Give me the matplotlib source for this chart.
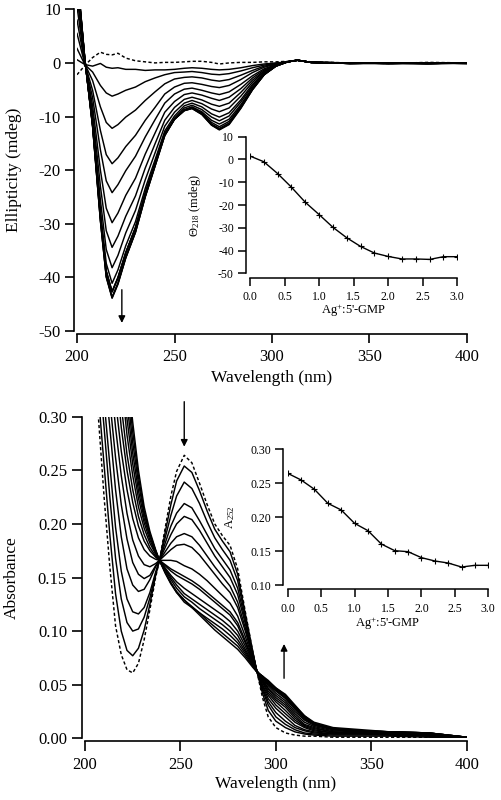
import matplotlib
matplotlib.use('Agg')
import matplotlib.pyplot as plt

plt.rcParams['font.family'] = ['Liberation Serif', 'DejaVu Serif']
plt.rcParams['mathtext.fontset'] = 'custom'
plt.rcParams['mathtext.rm'] = 'Liberation Serif'
plt.rcParams['mathtext.it'] = 'Liberation Serif:italic'
plt.rcParams['mathtext.bf'] = 'Liberation Serif:bold'
plt.rcParams['mathtext.default'] = 'regular'
plt.rcParams['axes.unicode_minus'] = False

# ---------------- CD spectra (top) ----------------
wl_cd = [200, 204, 208, 212, 215, 218, 221, 225, 230, 235, 240, 245, 250, 255, 259,
         264, 269, 273, 278, 284, 290, 296, 302, 308, 313, 320, 340, 360, 380, 400]
cd_r00 = [-2.2, -0.5, 1.0, 2.0, 1.6, 1.5, 1.8, 0.9, 0.4, 0.2, 0.0, 0.1, 0.1, 0.2, 0.3, 0.3, 0.1, -0.2, 0.0, 0.1, 0.1, 0.2, 0.2, 0.3, 0.5, 0.2, 0.0, -0.1, 0.1, 0.0]
cd_r02 = [0.6, -0.3, -0.6, -0.1, -0.8, -1.0, -0.9, -1.2, -1.2, -1.4, -1.3, -1.3, -1.2, -1.0, -0.9, -1.0, -1.2, -1.3, -1.2, -0.9, -0.5, -0.2, 0.0, 0.2, 0.5, 0.1, -0.1, 0.0, -0.2, 0.0]
cd_r04 = [2.7, -0.3, -1.7, -4.2, -5.6, -6.2, -5.8, -5.1, -4.5, -3.5, -2.8, -2.2, -1.8, -1.7, -1.6, -1.8, -2.1, -2.2, -2.0, -1.5, -0.9, -0.4, -0.1, 0.2, 0.5, 0.1, 0.0, -0.1, 0.0, -0.1]
cd_r06 = [5.5, -0.2, -3.3, -8.2, -11.1, -12.2, -11.5, -10.1, -8.8, -7.0, -5.4, -3.9, -3.0, -2.7, -2.6, -2.8, -3.2, -3.4, -3.1, -2.3, -1.4, -0.6, -0.2, 0.2, 0.5, 0.1, -0.1, 0.0, -0.1, 0.0]
cd_r08 = [8.0, -0.1, -5.1, -12.6, -17.1, -18.8, -17.7, -15.6, -13.5, -10.7, -8.3, -5.8, -4.5, -3.8, -3.7, -4.0, -4.4, -4.6, -4.2, -3.1, -1.8, -0.8, -0.2, 0.2, 0.5, 0.1, 0.0, -0.1, -0.1, 0.0]
cd_r10 = [10.5, 0.0, -6.5, -16.2, -22.0, -24.2, -22.7, -20.1, -17.4, -13.8, -10.6, -7.5, -5.8, -4.9, -4.7, -5.1, -5.6, -5.9, -5.4, -4.0, -2.4, -1.1, -0.3, 0.2, 0.5, 0.1, -0.1, 0.0, -0.1, -0.1]
cd_r12 = [12.5, 0.2, -8.0, -20.0, -27.1, -29.8, -28.0, -24.7, -21.5, -17.0, -13.1, -9.2, -7.2, -5.9, -5.6, -6.0, -6.6, -7.0, -6.4, -4.8, -2.8, -1.3, -0.4, 0.2, 0.5, 0.1, 0.0, -0.1, 0.0, -0.1]
cd_r14 = [14.0, 0.4, -9.3, -23.0, -31.3, -34.4, -32.3, -28.6, -24.8, -19.6, -15.1, -10.7, -8.3, -6.8, -6.4, -6.9, -7.7, -8.1, -7.5, -5.5, -3.2, -1.5, -0.4, 0.2, 0.5, 0.1, -0.1, -0.1, 0.0, 0.0]
cd_r16 = [15.0, 0.5, -10.3, -25.6, -34.8, -38.2, -35.9, -31.7, -27.5, -21.8, -16.8, -11.8, -9.2, -7.5, -7.0, -7.6, -8.6, -9.1, -8.4, -6.2, -3.6, -1.6, -0.5, 0.2, 0.5, 0.1, 0.0, -0.1, -0.1, 0.0]
cd_r18 = [16.0, 0.6, -11.1, -27.5, -37.4, -41.1, -38.6, -34.1, -29.6, -23.4, -18.1, -12.7, -9.9, -8.0, -7.5, -8.2, -9.5, -10.1, -9.3, -6.9, -4.0, -1.8, -0.5, 0.2, 0.5, 0.1, -0.1, 0.0, -0.1, 0.0]
cd_r20 = [16.5, 0.7, -11.5, -28.5, -38.8, -42.6, -40.0, -35.4, -30.7, -24.3, -18.7, -13.2, -10.3, -8.4, -7.9, -8.7, -10.1, -10.8, -9.9, -7.3, -4.3, -1.9, -0.5, 0.2, 0.5, 0.1, 0.0, -0.1, 0.0, -0.1]
cd_r22 = [17.0, 0.8, -11.8, -29.3, -39.8, -43.7, -41.1, -36.3, -31.5, -24.9, -19.2, -13.5, -10.5, -8.7, -8.2, -9.1, -10.7, -11.4, -10.5, -7.8, -4.6, -2.1, -0.6, 0.2, 0.5, 0.1, -0.1, -0.1, 0.0, 0.0]
cd_r24 = [17.0, 0.8, -11.8, -29.3, -39.8, -43.7, -41.1, -36.3, -31.5, -24.9, -19.2, -13.5, -10.5, -8.8, -8.3, -9.3, -11.1, -11.9, -10.9, -8.1, -4.8, -2.1, -0.6, 0.2, 0.5, 0.1, 0.0, -0.1, -0.1, 0.0]
cd_r26 = [17.2, 0.8, -11.9, -29.5, -40.0, -43.9, -41.3, -36.4, -31.6, -25.0, -19.3, -13.6, -10.5, -8.9, -8.4, -9.4, -11.4, -12.2, -11.2, -8.3, -4.9, -2.2, -0.6, 0.2, 0.5, 0.1, -0.1, 0.0, -0.1, 0.0]
cd_r28 = [16.6, 0.7, -11.5, -28.6, -38.9, -42.7, -40.1, -35.4, -30.7, -24.3, -18.8, -13.2, -10.5, -8.9, -8.5, -9.6, -11.6, -12.4, -11.4, -8.4, -5.0, -2.2, -0.6, 0.2, 0.5, 0.1, 0.0, -0.1, 0.0, -0.1]
cd_r30 = [16.6, 0.7, -11.5, -28.6, -38.9, -42.7, -40.1, -35.4, -30.7, -24.3, -18.8, -13.2, -10.5, -8.9, -8.5, -9.6, -11.6, -12.5, -11.5, -8.5, -5.0, -2.2, -0.6, 0.2, 0.5, 0.1, -0.1, 0.0, -0.1, 0.0]

# CD inset: ellipticity at 218 nm vs ratio
ratio = [0.0, 0.2, 0.4, 0.6, 0.8, 1.0, 1.2, 1.4, 1.6, 1.8, 2.0, 2.2, 2.4, 2.6, 2.8, 3.0]
theta218 = [1.5, -1.0, -6.2, -12.2, -18.8, -24.2, -29.8, -34.4, -38.2, -41.1, -42.6, -43.7, -43.7, -43.9, -42.7, -42.7]

# ---------------- Absorbance spectra (bottom) ----------------
wl_abs = [204, 207, 210, 213, 216, 219, 222, 225, 228, 231, 234, 237, 239, 242, 245, 248, 252, 256, 260, 264,
          268, 272, 276, 280, 284, 288, 290, 293, 296, 300, 305, 310, 315, 320, 330, 345, 360, 380, 400]
ab_r00 = [0.38, 0.30, 0.225, 0.16, 0.105, 0.078, 0.064, 0.061, 0.070, 0.092, 0.120, 0.150, 0.166, 0.196, 0.226, 0.249, 0.264, 0.257, 0.238, 0.218, 0.200, 0.189, 0.180, 0.158, 0.118, 0.080, 0.063, 0.038, 0.020, 0.010, 0.005, 0.003, 0.002, 0.002, 0.001, 0.001, 0.001, 0.001, 0.000]
ab_r02 = [0.40, 0.32, 0.255, 0.19, 0.135, 0.100, 0.082, 0.077, 0.084, 0.101, 0.125, 0.152, 0.166, 0.192, 0.218, 0.240, 0.254, 0.248, 0.231, 0.212, 0.195, 0.184, 0.174, 0.153, 0.116, 0.080, 0.063, 0.042, 0.026, 0.016, 0.010, 0.006, 0.004, 0.003, 0.002, 0.002, 0.002, 0.001, 0.000]
ab_r04 = [0.43, 0.35, 0.29, 0.225, 0.168, 0.130, 0.108, 0.100, 0.102, 0.113, 0.131, 0.153, 0.166, 0.187, 0.208, 0.226, 0.239, 0.233, 0.219, 0.202, 0.187, 0.176, 0.166, 0.147, 0.113, 0.079, 0.063, 0.045, 0.031, 0.020, 0.013, 0.008, 0.005, 0.004, 0.003, 0.003, 0.003, 0.002, 0.000]
ab_r06 = [0.46, 0.38, 0.315, 0.255, 0.197, 0.156, 0.130, 0.118, 0.116, 0.122, 0.136, 0.155, 0.166, 0.182, 0.198, 0.210, 0.219, 0.215, 0.203, 0.190, 0.177, 0.167, 0.157, 0.140, 0.110, 0.078, 0.063, 0.047, 0.034, 0.024, 0.016, 0.010, 0.007, 0.005, 0.004, 0.004, 0.003, 0.002, 0.000]
ab_r08 = [0.49, 0.41, 0.345, 0.29, 0.232, 0.188, 0.158, 0.143, 0.137, 0.139, 0.148, 0.160, 0.166, 0.178, 0.190, 0.200, 0.207, 0.204, 0.194, 0.182, 0.170, 0.160, 0.150, 0.134, 0.107, 0.077, 0.063, 0.049, 0.037, 0.028, 0.020, 0.012, 0.008, 0.006, 0.004, 0.004, 0.004, 0.003, 0.000]
ab_r10 = [0.52, 0.44, 0.375, 0.315, 0.262, 0.218, 0.186, 0.164, 0.153, 0.149, 0.152, 0.161, 0.166, 0.174, 0.182, 0.188, 0.191, 0.188, 0.180, 0.170, 0.160, 0.151, 0.142, 0.127, 0.103, 0.076, 0.063, 0.050, 0.040, 0.031, 0.023, 0.015, 0.010, 0.007, 0.005, 0.005, 0.004, 0.003, 0.001]
ab_r12 = [0.55, 0.47, 0.405, 0.345, 0.29, 0.245, 0.210, 0.185, 0.170, 0.162, 0.160, 0.163, 0.166, 0.171, 0.176, 0.180, 0.181, 0.178, 0.171, 0.162, 0.153, 0.144, 0.136, 0.122, 0.100, 0.075, 0.063, 0.052, 0.042, 0.034, 0.026, 0.017, 0.011, 0.008, 0.005, 0.005, 0.005, 0.004, 0.001]
ab_r14 = [0.58, 0.50, 0.435, 0.375, 0.315, 0.268, 0.232, 0.205, 0.187, 0.176, 0.170, 0.167, 0.166, 0.166, 0.166, 0.165, 0.161, 0.158, 0.153, 0.147, 0.140, 0.133, 0.126, 0.114, 0.095, 0.074, 0.063, 0.053, 0.044, 0.036, 0.029, 0.019, 0.012, 0.009, 0.006, 0.005, 0.005, 0.004, 0.001]
ab_r16 = [0.61, 0.53, 0.465, 0.405, 0.345, 0.290, 0.250, 0.220, 0.198, 0.184, 0.175, 0.169, 0.166, 0.162, 0.158, 0.155, 0.151, 0.147, 0.142, 0.136, 0.130, 0.124, 0.118, 0.108, 0.091, 0.073, 0.063, 0.054, 0.046, 0.038, 0.031, 0.021, 0.013, 0.010, 0.006, 0.005, 0.006, 0.004, 0.001]
ab_r18 = [0.64, 0.56, 0.495, 0.43, 0.37, 0.31, 0.265, 0.232, 0.207, 0.190, 0.178, 0.170, 0.166, 0.161, 0.156, 0.152, 0.148, 0.144, 0.139, 0.133, 0.127, 0.121, 0.115, 0.105, 0.089, 0.072, 0.063, 0.055, 0.047, 0.040, 0.033, 0.023, 0.015, 0.011, 0.007, 0.006, 0.006, 0.005, 0.001]
ab_r20 = [0.67, 0.59, 0.52, 0.46, 0.395, 0.335, 0.283, 0.245, 0.216, 0.196, 0.182, 0.172, 0.166, 0.159, 0.152, 0.146, 0.140, 0.135, 0.130, 0.125, 0.120, 0.115, 0.109, 0.100, 0.086, 0.071, 0.063, 0.056, 0.049, 0.042, 0.035, 0.025, 0.017, 0.012, 0.008, 0.006, 0.006, 0.005, 0.001]
ab_r22 = [0.70, 0.62, 0.545, 0.48, 0.415, 0.355, 0.298, 0.256, 0.224, 0.201, 0.185, 0.173, 0.166, 0.158, 0.150, 0.143, 0.135, 0.130, 0.125, 0.120, 0.115, 0.110, 0.104, 0.096, 0.083, 0.070, 0.063, 0.057, 0.050, 0.044, 0.037, 0.027, 0.018, 0.013, 0.008, 0.006, 0.006, 0.005, 0.001]
ab_r24 = [0.72, 0.64, 0.565, 0.50, 0.435, 0.37, 0.312, 0.266, 0.231, 0.205, 0.188, 0.174, 0.166, 0.157, 0.148, 0.140, 0.132, 0.127, 0.121, 0.116, 0.111, 0.106, 0.100, 0.092, 0.081, 0.069, 0.062, 0.057, 0.051, 0.045, 0.038, 0.028, 0.019, 0.013, 0.009, 0.007, 0.006, 0.005, 0.001]
ab_r26 = [0.74, 0.66, 0.585, 0.52, 0.455, 0.385, 0.325, 0.276, 0.238, 0.209, 0.190, 0.175, 0.166, 0.155, 0.145, 0.136, 0.127, 0.122, 0.117, 0.112, 0.107, 0.102, 0.096, 0.089, 0.079, 0.068, 0.062, 0.058, 0.052, 0.046, 0.039, 0.029, 0.020, 0.014, 0.009, 0.007, 0.006, 0.005, 0.001]
ab_r28 = [0.76, 0.68, 0.605, 0.54, 0.47, 0.40, 0.337, 0.286, 0.244, 0.212, 0.191, 0.175, 0.166, 0.155, 0.145, 0.137, 0.129, 0.123, 0.117, 0.110, 0.104, 0.098, 0.092, 0.086, 0.077, 0.067, 0.062, 0.058, 0.053, 0.047, 0.040, 0.030, 0.021, 0.014, 0.009, 0.007, 0.006, 0.004, 0.001]
ab_r30 = [0.78, 0.70, 0.62, 0.555, 0.485, 0.41, 0.345, 0.295, 0.250, 0.216, 0.193, 0.176, 0.166, 0.154, 0.144, 0.136, 0.129, 0.122, 0.115, 0.108, 0.101, 0.095, 0.089, 0.083, 0.075, 0.066, 0.062, 0.058, 0.054, 0.047, 0.041, 0.031, 0.021, 0.015, 0.010, 0.008, 0.006, 0.004, 0.001]

# Absorbance inset: A252 vs ratio
a252 = [0.2646, 0.2548, 0.2410, 0.2204, 0.2106, 0.1909, 0.1801, 0.1604, 0.1506, 0.1491,
        0.1403, 0.1354, 0.1324, 0.1265, 0.1290, 0.1290]

cd_curves = [cd_r00, cd_r02, cd_r04, cd_r06, cd_r08, cd_r10, cd_r12, cd_r14,
             cd_r16, cd_r18, cd_r20, cd_r22, cd_r24, cd_r26, cd_r28, cd_r30]
ab_curves = [ab_r00, ab_r02, ab_r04, ab_r06, ab_r08, ab_r10, ab_r12, ab_r14,
             ab_r16, ab_r18, ab_r20, ab_r22, ab_r24, ab_r26, ab_r28, ab_r30]

W, H = 502.0, 800.0
fig = plt.figure(figsize=(W / 100, H / 100), dpi=100)


def box(x0, x1, ytop, ybot):
    return [x0 / W, 1 - ybot / H, (x1 - x0) / W, (ybot - ytop) / H]


def style(ax, loff, boff, fs, tlen, padx, pady, lw=1.2):
    ax.spines['top'].set_visible(False)
    ax.spines['right'].set_visible(False)
    ax.spines['left'].set_position(('outward', loff))
    ax.spines['bottom'].set_position(('outward', boff))
    ax.spines['left'].set_linewidth(lw)
    ax.spines['bottom'].set_linewidth(lw)
    ax.tick_params(direction='out', length=tlen, width=lw, labelsize=fs, colors='k')
    ax.tick_params(axis='x', pad=padx)
    ax.tick_params(axis='y', pad=pady)
    ax.patch.set_visible(False)


dash = (0, (2.2, 1.6))

# ---- top main ----
ax1 = fig.add_axes(box(77, 467, 9.3, 331))
for i, c in enumerate(cd_curves):
    ax1.plot(wl_cd, c, color='k', lw=1.05, ls=dash if i == 0 else '-')
ax1.set_xlim(200, 400)
ax1.set_ylim(-50, 10)
ax1.set_xticks([200, 250, 300, 350, 400])
ax1.set_yticks([10, 0, -10, -20, -30, -40, -50])
style(ax1, 2.2, 2.2, 12, 6.5, 4.5, 3.0)
ax1.set_xlabel('Wavelength (nm)', fontsize=12.5)
ax1.set_ylabel('Ellipticity (mdeg)', fontsize=12.5)
ax1.xaxis.set_label_coords(0.5, -0.122)
ax1.yaxis.set_label_coords(-0.142, 0.5)
ax1.annotate('', xy=(223, -48.5), xytext=(223, -42.3),
             arrowprops=dict(arrowstyle='-|>', color='k', lw=1.0, mutation_scale=10,
                             shrinkA=0, shrinkB=0), annotation_clip=False)

# ---- top inset ----
ax2 = fig.add_axes(box(250, 457.3, 136.7, 273.3))
ax2.plot(ratio, theta218, color='k', lw=1.0, marker='+', ms=5, mew=0.8)
ax2.set_xlim(0, 3)
ax2.set_ylim(-50, 10)
ax2.set_xticks([0.0, 0.5, 1.0, 1.5, 2.0, 2.5, 3.0])
ax2.set_xticklabels(['0.0', '0.5', '1.0', '1.5', '2.0', '2.5', '3.0'])
ax2.set_yticks([10, 0, -10, -20, -30, -40, -50])
style(ax2, 3.1, 3.4, 8.5, 6.0, 3.5, 2.5, lw=1.1)
ax2.set_xlabel("Ag$^{+}$:5'-GMP", fontsize=9)
ax2.set_ylabel('Θ$_{218}$ (mdeg)', fontsize=9)
ax2.xaxis.set_label_coords(0.5, -0.215)
ax2.yaxis.set_label_coords(-0.225, 0.5)

# ---- bottom main ----
ax3 = fig.add_axes(box(85, 466.7, 416.7, 738.3))
for i, c in enumerate(ab_curves):
    ax3.plot(wl_abs, c, color='k', lw=1.05, ls=dash if i == 0 else '-')
ax3.set_xlim(200, 400)
ax3.set_ylim(0, 0.30)
ax3.set_xticks([200, 250, 300, 350, 400])
ax3.set_yticks([0.00, 0.05, 0.10, 0.15, 0.20, 0.25, 0.30])
ax3.set_yticklabels(['0.00', '0.05', '0.10', '0.15', '0.20', '0.25', '0.30'])
style(ax3, 2.4, 1.8, 12, 7.0, 4.5, 3.5)
ax3.set_xlabel('Wavelength (nm)', fontsize=12.5)
ax3.set_ylabel('Absorbance', fontsize=12.5)
ax3.xaxis.set_label_coords(0.5, -0.118)
ax3.yaxis.set_label_coords(-0.172, 0.5)
ax3.annotate('', xy=(252, 0.272), xytext=(252, 0.314),
             arrowprops=dict(arrowstyle='-|>', color='k', lw=1.0, mutation_scale=10,
                             shrinkA=0, shrinkB=0), annotation_clip=False)
ax3.annotate('', xy=(304.3, 0.088), xytext=(304.3, 0.056),
             arrowprops=dict(arrowstyle='-|>', color='k', lw=1.0, mutation_scale=10,
                             shrinkA=0, shrinkB=0), annotation_clip=False)

# ---- bottom inset ----
ax4 = fig.add_axes(box(287.7, 488.3, 449.3, 585))
ax4.plot(ratio, a252, color='k', lw=1.0, marker='+', ms=5, mew=0.8)
ax4.set_xlim(0, 3)
ax4.set_ylim(0.10, 0.30)
ax4.set_xticks([0.0, 0.5, 1.0, 1.5, 2.0, 2.5, 3.0])
ax4.set_xticklabels(['0.0', '0.5', '1.0', '1.5', '2.0', '2.5', '3.0'])
ax4.set_yticks([0.10, 0.15, 0.20, 0.25, 0.30])
ax4.set_yticklabels(['0.10', '0.15', '0.20', '0.25', '0.30'])
style(ax4, 3.2, 3.1, 8.5, 6.0, 3.5, 3.0, lw=1.1)
ax4.set_xlabel("Ag$^{+}$:5'-GMP", fontsize=9)
ax4.set_ylabel('A$_{252}$', fontsize=9)
ax4.xaxis.set_label_coords(0.5, -0.22)
ax4.yaxis.set_label_coords(-0.255, 0.5)

fig.savefig('out.png', dpi=100)
